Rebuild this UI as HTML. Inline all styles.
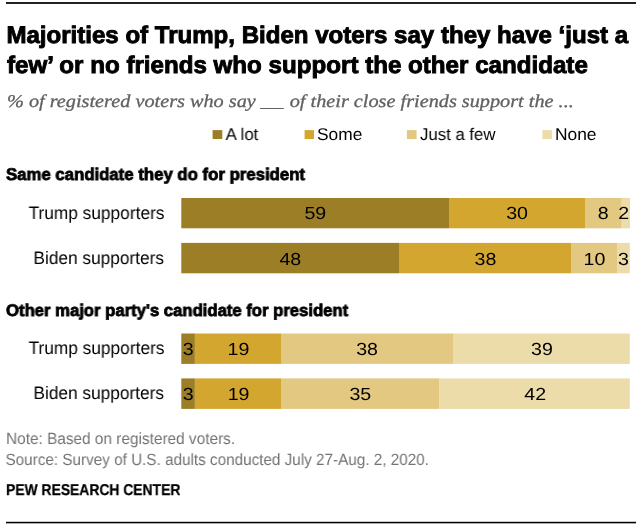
<!DOCTYPE html>
<html><head><meta charset="utf-8">
<style>
html,body{margin:0;padding:0;background:#fff;}
body{width:640px;height:524px;position:relative;overflow:hidden;font-family:"Liberation Sans",sans-serif;color:#000;text-rendering:geometricPrecision;}
.a{position:absolute;white-space:nowrap;line-height:1;will-change:transform;}
.rule{position:absolute;left:6px;width:629.5px;height:2px;background:#222;}
.t{font-weight:bold;font-size:24px;left:7px;transform-origin:0 0;transform:scaleX(1.0);-webkit-text-stroke:0.9px #000;}
.sub{font-family:"Liberation Serif",serif;font-style:italic;font-size:18px;color:#616161;-webkit-text-stroke:0.3px #616161;left:7px;transform-origin:0 0;transform:scaleX(1.125);}
.lg{font-size:17px;transform-origin:0 0;}
.sq{position:absolute;width:9.5px;height:9px;top:130px;}
.h{font-weight:bold;font-size:17px;left:6px;transform-origin:0 0;transform:scaleX(0.986);-webkit-text-stroke:0.8px #000;}
.lab{font-size:18px;transform-origin:100% 0;right:476px;transform:scaleX(0.96);}
.bar{position:absolute;height:30.4px;}
.n{font-size:17.5px;transform-origin:50% 0;text-align:center;transform:scaleX(1.12);}
.note{font-size:16.2px;color:#737373;left:6px;transform-origin:0 0;}
.pew{font-weight:bold;font-size:15.7px;left:6.2px;transform-origin:0 0;transform:scaleX(0.885);-webkit-text-stroke:0.25px #000;}
.c1{background:#9c7e26;}
.c2{background:#d3a72f;}
.c3{background:#e2c881;}
.c4{background:#ecdcaa;}
</style></head><body>
<div class="rule" style="top:2px"></div>
<div class="a t" id="t1" style="top:24px;transform:translateX(-0.6px) scaleX(1.0025)">Majorities of Trump, Biden voters say they have ‘just a</div>
<div class="a t" id="t2" style="top:53.9px;transform:scaleX(1.006)">few’ or no friends who support the other candidate</div>
<div class="a sub" id="sub" style="top:92px">% of registered voters who say <span style="display:inline-block;width:21.2px;height:1.2px;background:#616161;vertical-align:-2.4px;margin:0 1.1px 0 -1.1px"></span> of their close friends support the ...</div>

<div class="a lg" id="lg1" style="left:226px;top:125.9px;transform:translateX(-0.4px) scaleX(0.99)">A lot</div>
<div class="a lg" id="lg2" style="left:318px;top:125.9px;transform:translateX(-1px) scaleX(1.02)">Some</div>
<div class="a lg" id="lg3" style="left:420px;top:125.9px;transform:scaleX(0.986)">Just a few</div>
<div class="a lg" id="lg4" style="left:556px;top:125.9px;transform:translateX(-1.1px) scaleX(1.023)">None</div>

<div class="a h" id="h1" style="top:165.7px">Same candidate they do for president</div>
<div class="a lab" id="l1" style="top:204px">Trump supporters</div>
<div class="a lab" id="l2" style="top:249px">Biden supporters</div>

<div class="a h" id="h2" style="top:302.1px;transform:scaleX(0.981)">Other major party's candidate for president</div>
<div class="a lab" id="l3" style="top:339px">Trump supporters</div>
<div class="a lab" id="l4" style="top:384px">Biden supporters</div>

<!-- bars -->
<svg style="position:absolute;left:0;top:0" width="640" height="524" viewBox="0 0 640 524" shape-rendering="geometricPrecision">
<rect x="181.3" y="198.0" width="267.7" height="30.3" fill="#9c7e26"/>
<rect x="449" y="198.0" width="136" height="30.3" fill="#d3a72f"/>
<rect x="585" y="198.0" width="36.7" height="30.3" fill="#e2c881"/>
<rect x="621.7" y="198.0" width="8.3" height="30.3" fill="#ecdcaa"/>
<rect x="181.3" y="242.9" width="217.7" height="30.4" fill="#9c7e26"/>
<rect x="399" y="242.9" width="172" height="30.4" fill="#d3a72f"/>
<rect x="571" y="242.9" width="46" height="30.4" fill="#e2c881"/>
<rect x="617" y="242.9" width="12.8" height="30.4" fill="#ecdcaa"/>
<rect x="181.3" y="333.5" width="13.6" height="30.4" fill="#9c7e26"/>
<rect x="194.9" y="333.5" width="86.1" height="30.4" fill="#d3a72f"/>
<rect x="281" y="333.5" width="172" height="30.4" fill="#e2c881"/>
<rect x="453" y="333.5" width="176.8" height="30.4" fill="#ecdcaa"/>
<rect x="181.3" y="378.4" width="13.6" height="30.5" fill="#9c7e26"/>
<rect x="194.9" y="378.4" width="86.1" height="30.5" fill="#d3a72f"/>
<rect x="281" y="378.4" width="158.5" height="30.5" fill="#e2c881"/>
<rect x="439.5" y="378.4" width="190.3" height="30.5" fill="#ecdcaa"/>
<rect x="212.6" y="130.1" width="9.7" height="8.9" fill="#9c7e26"/>
<rect x="304.6" y="130.1" width="9.4" height="8.9" fill="#d3a72f"/>
<rect x="406.9" y="130.1" width="9.7" height="8.9" fill="#e2c881"/>
<rect x="542.4" y="130.1" width="9.5" height="8.9" fill="#ecdcaa"/>
</svg>
<!-- numbers -->
<div class="a n" id="n11" style="left:295px;width:40px;top:205px;transform:translateX(0.35px) scaleX(1.12)">59</div>
<div class="a n" id="n12" style="left:497px;width:40px;top:205px;transform:translateX(0.1px) scaleX(1.12)">30</div>
<div class="a n" id="n13" style="left:583px;width:40px;top:205px;transform:translateX(0.1px) scaleX(1.12)">8</div>
<div class="a n" id="n14" style="left:603px;width:40px;top:205px;transform:translateX(0.8px) scaleX(1.12)">2</div>

<div class="a n" id="n21" style="left:270px;width:40px;top:251px;transform:translateX(0.35px) scaleX(1.12)">48</div>
<div class="a n" id="n22" style="left:465px;width:40px;top:251px;transform:translateX(0.4px) scaleX(1.12)">38</div>
<div class="a n" id="n23" style="left:574px;width:40px;top:251px;transform:translateX(0.5px) scaleX(1.12)">10</div>
<div class="a n" id="n24" style="left:603px;width:40px;top:251px;transform:translateX(0.5px) scaleX(1.12)">3</div>

<div class="a n" id="n31" style="left:168px;width:40px;top:341px;transform:translateX(0.1px) scaleX(1.12)">3</div>
<div class="a n" id="n32" style="left:218px;width:40px;top:341px;transform:translateX(0.5px) scaleX(1.12)">19</div>
<div class="a n" id="n33" style="left:347px;width:40px;top:341px;transform:translateX(0.1px) scaleX(1.12)">38</div>
<div class="a n" id="n34" style="left:521px;width:40px;top:341px;transform:translateX(0.9px) scaleX(1.12)">39</div>

<div class="a n" id="n41" style="left:168px;width:40px;top:386px;transform:translateX(0.1px) scaleX(1.12)">3</div>
<div class="a n" id="n42" style="left:218px;width:40px;top:386px;transform:translateX(0.6px) scaleX(1.12)">19</div>
<div class="a n" id="n43" style="left:340px;width:40px;top:386px;transform:translateX(0.3px) scaleX(1.12)">35</div>
<div class="a n" id="n44" style="left:515px;width:40px;top:386px;transform:translateX(0.2px) scaleX(1.12)">42</div>

<div class="a note" id="no1" style="top:431px;transform:scaleX(0.95)">Note: Based on registered voters.</div>
<div class="a note" id="no2" style="top:452px;transform:translateX(-0.5px) scaleX(0.943)">Source: Survey of U.S. adults conducted July 27-Aug. 2, 2020.</div>
<div class="a pew" id="pew" style="top:483px">PEW RESEARCH CENTER</div>
<div class="rule" style="top:522px;height:1px;background:#000;box-shadow:0 -1px 0 #c8c8c8,0 1px 0 #aaa"></div>
</body></html>
